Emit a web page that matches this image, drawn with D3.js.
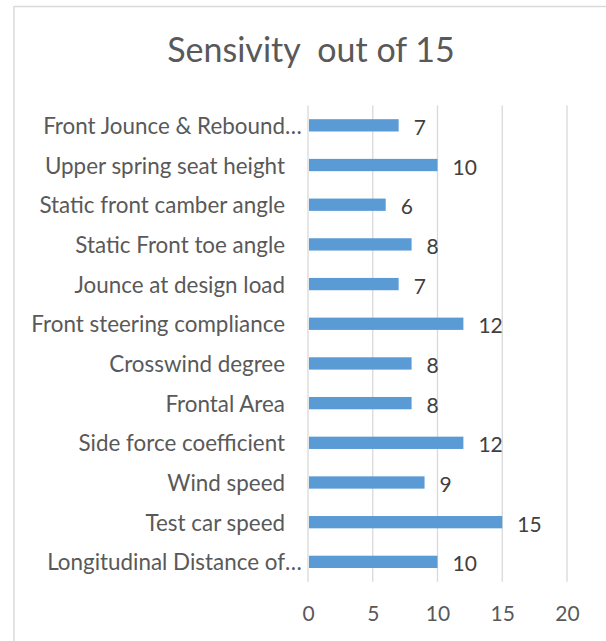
<!DOCTYPE html>
<html>
<head>
<meta charset="utf-8">
<script src="https://cdn.jsdelivr.net/npm/d3@7"></script>
<style>
  html, body { margin: 0; padding: 0; background: #fff; }
  svg { display: block; }
</style>
</head>
<body>
<svg id="chart" width="606" height="641"></svg>
<script>
// Sensitivity scores (out of 15), listed top to bottom
const categories = [
  "Front Jounce & Rebound…",
  "Upper spring seat height",
  "Static front camber angle",
  "Static Front toe angle",
  "Jounce at design load",
  "Front steering compliance",
  "Crosswind degree",
  "Frontal Area",
  "Side force coefficient",
  "Wind speed",
  "Test car speed",
  "Longitudinal Distance of…"
];
const values = [7, 10, 6, 8, 7, 12, 8, 8, 12, 9, 15, 10];
const xTicks = [0, 5, 10, 15, 20];
const title = "Sensivity  out of 15";

const FONT = "Lato, 'Open Sans', sans-serif";
const TEXT = "#595959";
const GRID = "#D9D9D9";
const BAR = "#5B9BD5";

const svg = d3.select("#chart");

// chart area frame
svg.append("rect")
  .attr("x", 14).attr("y", 6.5)
  .attr("width", 620).attr("height", 660)
  .attr("fill", "#fff")
  .attr("stroke", GRID).attr("stroke-width", 1.5);

svg.append("text")
  .attr("x", 311).attr("y", 62)
  .attr("text-anchor", "middle")
  .attr("font-family", FONT).attr("font-size", 34)
  .attr("fill", TEXT)
  .style("white-space", "pre")
  .text(title);

const x = d3.scaleLinear().domain([0, 20]).range([308, 567]);
const y = d3.scaleBand().domain(categories).range([105.5, 581.7]).paddingInner(0.69).paddingOuter(0.345);

// vertical gridlines
svg.append("g").selectAll("line").data(xTicks).join("line")
  .attr("x1", d => x(d)).attr("x2", d => x(d))
  .attr("y1", 105.5).attr("y2", 581.7)
  .attr("stroke", GRID).attr("stroke-width", 1.3);

// bars
svg.append("g").selectAll("rect").data(values).join("rect")
  .attr("x", x(0) + 1)
  .attr("y", (d, i) => y(categories[i]))
  .attr("width", d => x(d) - x(0) - 1)
  .attr("height", y.bandwidth())
  .attr("fill", BAR);

// value labels at bar end
svg.append("g").selectAll("text").data(values).join("text")
  .attr("x", d => x(d) + 15)
  .attr("y", (d, i) => y(categories[i]) + y.bandwidth() / 2 + 1)
  .attr("dominant-baseline", "central")
  .attr("font-family", FONT).attr("font-size", 21)
  .attr("fill", "#404040")
  .text(d => d);

// category labels; a trailing ellipsis hangs past the right-aligned text
const catG = svg.append("g");
categories.forEach((c, i) => {
  const cy = y(c) + y.bandwidth() / 2;
  const trunc = c.endsWith("…");
  const base = trunc ? c.slice(0, -1) : c;
  catG.append("text")
    .attr("x", 285).attr("y", cy)
    .attr("text-anchor", "end")
    .attr("dominant-baseline", "central")
    .attr("font-family", FONT).attr("font-size", 22.4)
    .attr("fill", TEXT)
    .text(base);
  if (trunc) {
    catG.append("text")
      .attr("x", 285).attr("y", cy)
      .attr("dominant-baseline", "central")
      .attr("font-family", FONT).attr("font-size", 22.4)
      .attr("fill", TEXT)
      .text("…");
  }
});

// x-axis tick labels
const axis = d3.axisBottom(x).tickValues(xTicks).tickSize(0).tickPadding(0);
const ax = svg.append("g").attr("transform", "translate(0,606)").call(axis);
ax.select(".domain").remove();
ax.selectAll("text")
  .attr("font-family", FONT).attr("font-size", 21)
  .attr("fill", TEXT);
</script>
</body>
</html>
